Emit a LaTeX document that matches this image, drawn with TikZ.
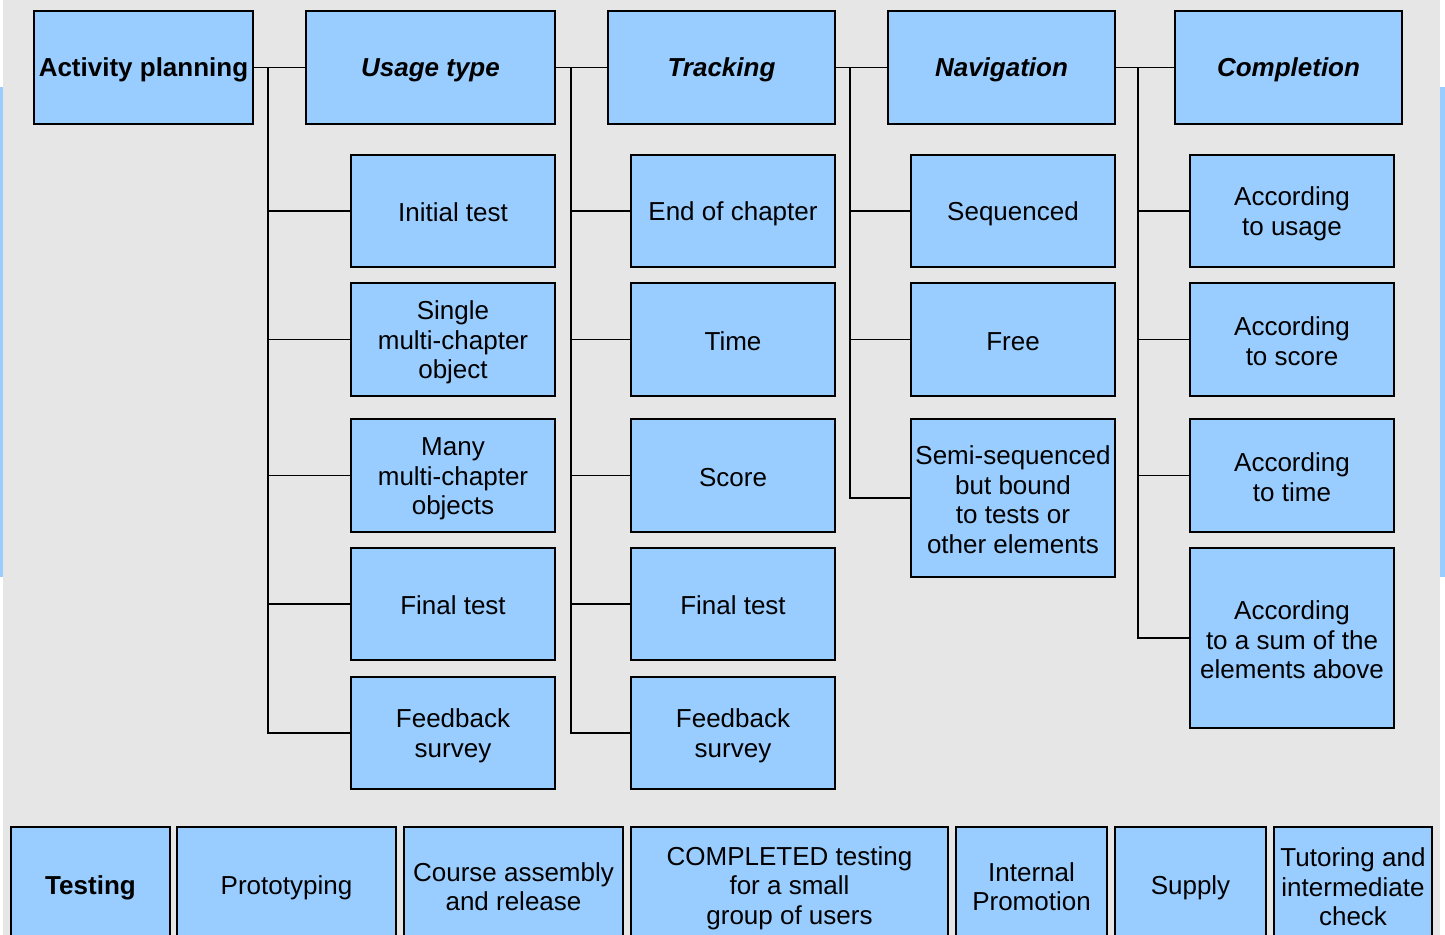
\documentclass[tikz,border=0pt]{standalone}
\usepackage{fontspec}
\setmainfont{Liberation Sans}
\usepackage{tikz}

\definecolor{boxblue}{HTML}{99CCFF}
\definecolor{sheetgray}{HTML}{E6E6E6}
\newcommand\linestrut{\rule[-0.095em]{0pt}{1.025em}}
\newcommand\topline{\rule{0pt}{0.95em}}

\tikzset{
  box/.style 2 args={draw=black, line width=0.6pt, fill=boxblue, align=center,
    inner sep=0pt, minimum width=#1*0.02cm, minimum height=#2*0.02cm,
    font=\fontsize{14.8pt}{16.8pt}\selectfont,
    execute at begin node=\linestrut, execute at end node=\linestrut},
  headbox/.style={font=\fontsize{14.8pt}{16.8pt}\selectfont\bfseries\itshape},
  link/.style={draw=black, line width=0.6pt}
}

\begin{document}
\begin{tikzpicture}[x=0.02cm, y=-0.02cm]
  \useasboundingbox (0,0) rectangle (1445,935);
  \clip (0,0) rectangle (1445,935);
  \fill[white] (0,0) rectangle (1445,935);
  \fill[sheetgray] (3,0) rectangle (1440,935);
  \fill[boxblue] (0,87) rectangle (3,577);
  \fill[boxblue] (1440,87) rectangle (1445,577);

  % top row
  \node[box={219}{113}, font=\fontsize{14.8pt}{16.8pt}\selectfont\bfseries] (plan) at (143.5,67.5) {Activity planning};
  \node[box={249}{113}, headbox] (usage) at (430.5,67.5) {Usage type};
  \node[box={227}{113}, headbox] (track) at (721.5,67.5) {Tracking};
  \node[box={227}{113}, headbox] (navig) at (1001.5,67.5) {Navigation};
  \node[box={227}{113}, headbox] (compl) at (1288.5,67.5) {Completion};

  % usage type
  \node[box={204}{112}] (u1) at (453,211) {Initial test};
  \node[box={204}{113}] (u2) at (453,339.5) {\topline Single\\multi-chapter\\object};
  \node[box={204}{113}] (u3) at (453,475.5) {\topline Many\\multi-chapter\\objects};
  \node[box={204}{112}] (u4) at (453,604) {Final test};
  \node[box={204}{112}] (u5) at (453,733) {\topline Feedback\\survey};

  % tracking
  \node[box={204}{112}] (t1) at (733,211) {End of chapter};
  \node[box={204}{113}] (t2) at (733,339.5) {Time};
  \node[box={204}{113}] (t3) at (733,475.5) {Score};
  \node[box={204}{112}] (t4) at (733,604) {Final test};
  \node[box={204}{112}] (t5) at (733,733) {\topline Feedback\\survey};

  % navigation
  \node[box={204}{112}] (n1) at (1013,211) {Sequenced};
  \node[box={204}{113}] (n2) at (1013,339.5) {Free};
  \node[box={204}{158}] (n3) at (1013,498) {\topline Semi-sequenced\\but bound\\to tests or\\other elements};

  % completion
  \node[box={204}{112}] (c1) at (1292,211) {\topline According\\to usage};
  \node[box={204}{113}] (c2) at (1292,339.5) {\topline According\\to score};
  \node[box={204}{113}] (c3) at (1292,475.5) {\topline According\\to time};
  \node[box={204}{180}] (c4) at (1292,638) {\topline According\\to a sum of the\\elements above};

  % bottom row
  \node[box={159}{116}, font=\fontsize{14.8pt}{16.8pt}\selectfont\bfseries] (b1) at (90.5,885) {Testing};
  \node[box={219}{116}] (b2) at (286.5,885) {Prototyping};
  \node[box={219}{116}] (b3) at (513.5,885) {\topline Course assembly\\and release};
  \node[box={317}{116}] (b4) at (789.5,885) {\topline COMPLETED testing\\for a small\\group of users};
  \node[box={151}{116}] (b5) at (1031.5,885) {\topline Internal\\Promotion};
  \node[box={151}{116}] (b6) at (1190.5,885) {Supply};
  \node[box={158}{116}] (b7) at (1353,885) {\topline Tutoring and\\intermediate\\check};

  % connectors
  \draw[link] (plan) -- (usage);
  \draw[link] (usage) -- (track);
  \draw[link] (track) -- (navig);
  \draw[link] (navig) -- (compl);
  \coordinate (s1) at (268,67.5);
  \coordinate (s2) at (571,67.5);
  \coordinate (s3) at (850,67.5);
  \coordinate (s4) at (1138,67.5);
  \foreach \n in {u1,u2,u3,u4,u5} \draw[link] (s1) |- (\n.west);
  \foreach \n in {t1,t2,t3,t4,t5} \draw[link] (s2) |- (\n.west);
  \foreach \n in {n1,n2,n3} \draw[link] (s3) |- (\n.west);
  \foreach \n in {c1,c2,c3,c4} \draw[link] (s4) |- (\n.west);
\end{tikzpicture}
\end{document}
